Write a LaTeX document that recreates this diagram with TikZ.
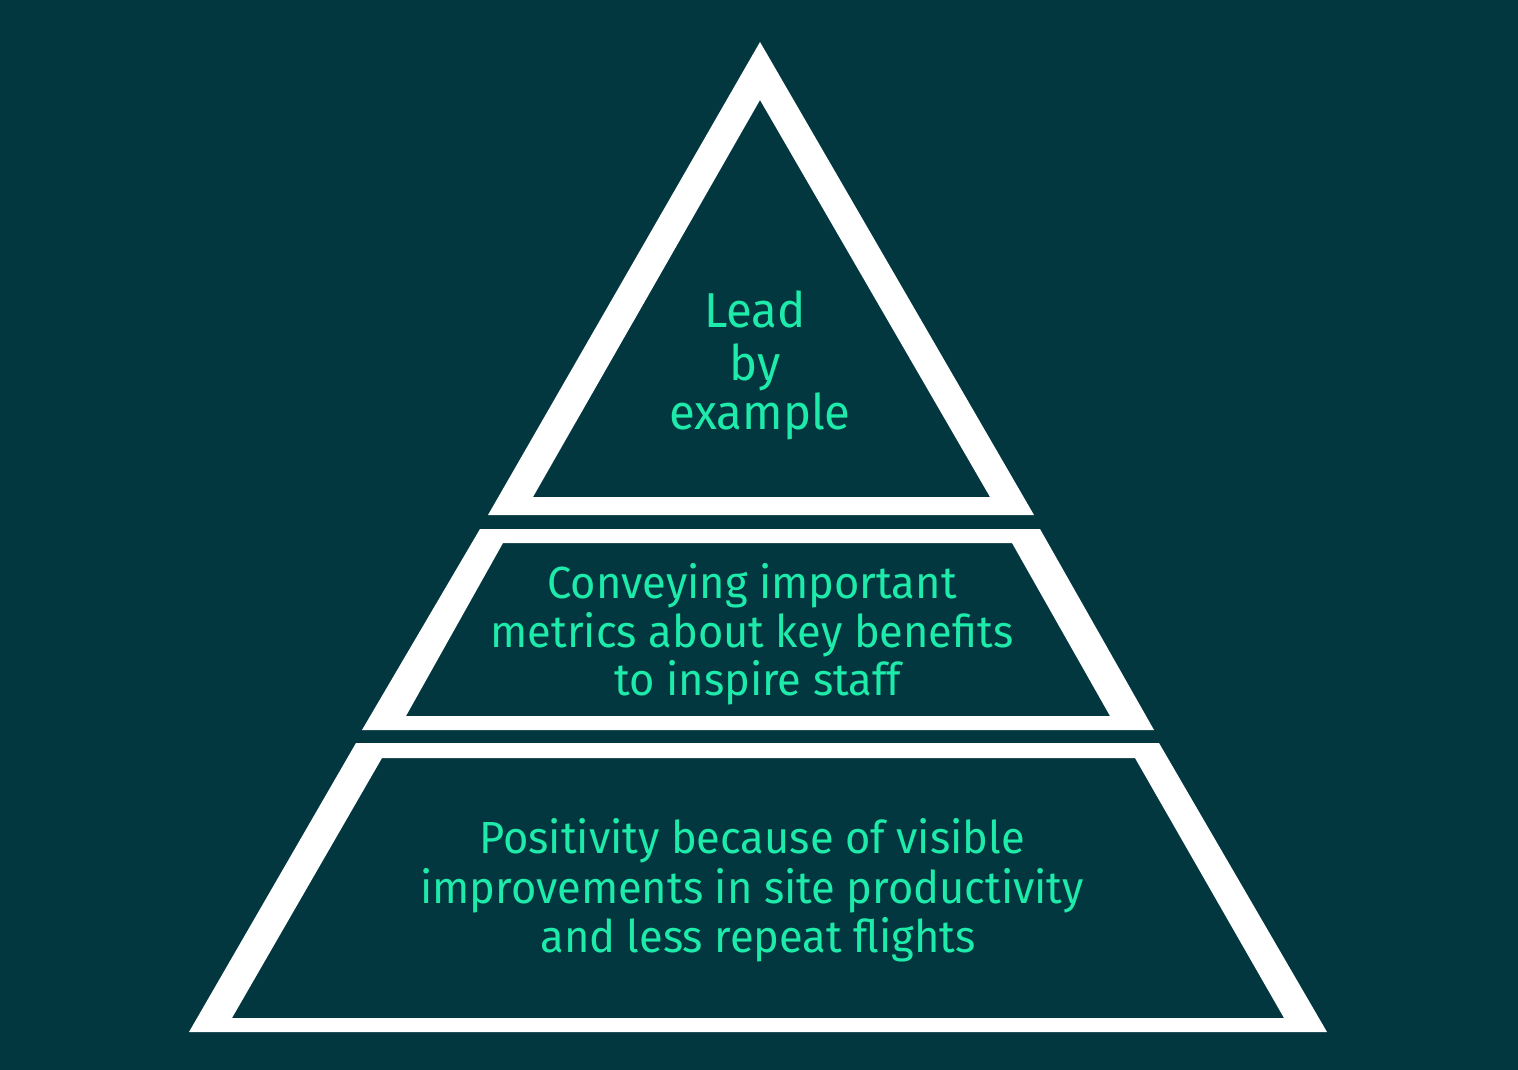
\documentclass[tikz,border=0pt]{standalone}
\usepackage{fontspec}
\setmainfont{Fira Sans}[FakeStretch=0.965]
\definecolor{bg}{HTML}{023740}
\definecolor{txt}{HTML}{1EEAAA}
\begin{document}
\begin{tikzpicture}[x=1pt,y=-1pt,
  lbl/.style={anchor=base,text=txt,inner sep=0pt,font=\fontsize{45}{50}\selectfont},
  toplbl/.style={lbl,font=\fontsize{49}{50}\selectfont},
  band/.style={fill=white,even odd rule}]
\useasboundingbox (0,0) rectangle (1518,1070);
\fill[bg] (0,0) rectangle (1518,1070);
% top triangle
\fill[band] (760,42) -- (1034,515) -- (488,515) -- cycle
            (760,100) -- (990,497) -- (533,497) -- cycle;
% middle band
\fill[band] (480,529) -- (1040,529) -- (1154,730) -- (362,730) -- cycle
            (503,543) -- (1012,543) -- (1110,716) -- (406,716) -- cycle;
% bottom band
\fill[band] (356,743) -- (1159,743) -- (1327,1032) -- (189,1032) -- cycle
            (382,758) -- (1135,758) -- (1284,1018) -- (232,1018) -- cycle;
% texts
\node[toplbl] (a1) at (755,327) {Lead};
\node[toplbl] (a2) at (755,380) {by};
\node[toplbl] (a3) at (760,429) {example};
\node[lbl] (b1) at (752,598) {Conveying important};
\node[lbl] (b2) at (752,647) {metrics about key benefits};
\node[lbl] (b3) at (758,695) {to inspire staff};
\node[lbl] (c1) at (752,853) {Positivity because of visible};
\node[lbl] (c2) at (752,903) {improvements in site productivity};
\node[lbl] (c3) at (758,952) {and less repeat flights};
\end{tikzpicture}
\end{document}
